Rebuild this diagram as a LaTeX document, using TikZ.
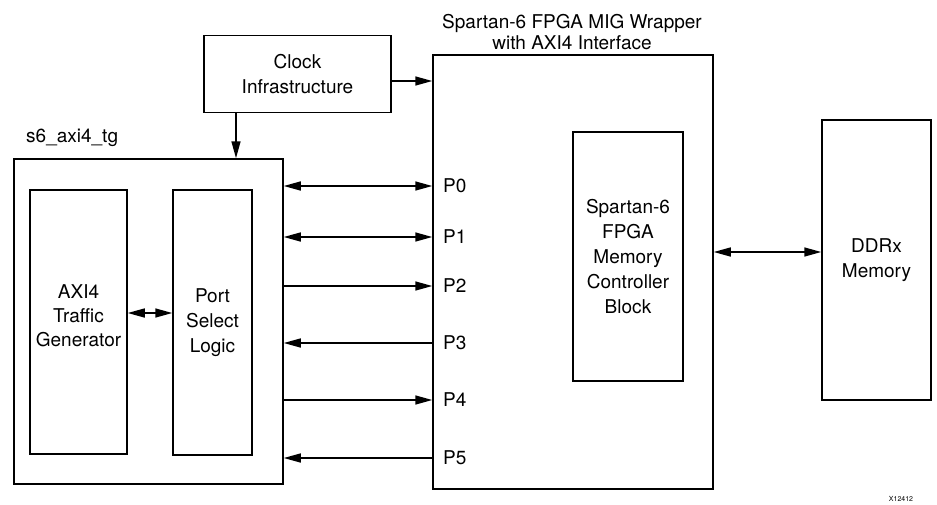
\documentclass[tikz,border=0pt]{standalone}
\usepackage{fontspec}
\setmainfont{TeX Gyre Heros}
\usetikzlibrary{arrows.meta}
\tikzset{
  box/.style={draw, line width=1.5pt, rectangle, inner sep=0pt, align=center,
    font=\fontsize{19}{25}\selectfont},
  conn/.style={line width=1.5pt, -{Triangle[length=17pt,width=9pt]}},
  biconn/.style={line width=1.5pt, {Triangle[length=17pt,width=9pt]}-{Triangle[length=17pt,width=9pt]}},
  lbl/.style={font=\fontsize{19}{21.5}\selectfont, align=center, inner sep=0pt},
}
\begin{document}
\begin{tikzpicture}[x=1pt,y=-1pt]
\useasboundingbox (0,0) rectangle (937,504);
% boxes
\node[box, minimum width=187pt, minimum height=77pt] (clock) at (297.5,74) {Clock\\Infrastructure};
\node[box, minimum width=280pt, minimum height=434pt] (wrap) at (573,272) {};
\node[box, minimum width=110pt, minimum height=249pt] (mc) at (628,256.5) {Spartan-6\\FPGA\\Memory\\Controller\\Block};
\node[box, minimum width=109pt, minimum height=280pt] (ddr) at (876.5,260) {DDRx\\Memory};
\node[box, minimum width=269pt, minimum height=325pt] (s6) at (148.5,321.5) {};
\node[box, minimum width=97pt, minimum height=264pt] (axi) at (78.5,322) {};
\node[lbl, font=\fontsize{19}{24}\selectfont] (axitxt) at (78.5,316) {AXI4\\Traffic\\Generator};
\node[box, minimum width=79pt, minimum height=265pt] (psl) at (212.5,322.5) {Port\\Select\\Logic};
% labels
\node[lbl] (title) at (572,32) {Spartan-6 FPGA MIG Wrapper\\with AXI4 Interface};
\node[lbl, anchor=west] (s6lbl) at (26,138) {s6\_axi4\_tg};
\node[lbl, font=\fontsize{7}{8}\selectfont] (fig) at (901,499) {X12412};
% port labels
\foreach \i/\y in {0/186,1/237,2/286,3/343,4/400,5/458}{
  \node[lbl, anchor=west] (p\i) at (443,\y) {P\i};
}
% connectors
\draw[conn] (clock.east |- 0,81) -- (wrap.west |- 0,81);
\draw[conn] (clock.south -| 236,0) -- (s6.north -| 236,0);
\draw[biconn] (axi.east |- 0,313) -- (psl.west |- 0,313);
\draw[biconn] (wrap.east |- 0,252) -- (ddr.west |- 0,252);
\draw[biconn] (s6.east |- 0,186) -- (wrap.west |- 0,186);
\draw[biconn] (s6.east |- 0,237) -- (wrap.west |- 0,237);
\draw[conn] (s6.east |- 0,286) -- (wrap.west |- 0,286);
\draw[conn] (wrap.west |- 0,343) -- (s6.east |- 0,343);
\draw[conn] (s6.east |- 0,400) -- (wrap.west |- 0,400);
\draw[conn] (wrap.west |- 0,458) -- (s6.east |- 0,458);
\end{tikzpicture}
\end{document}
